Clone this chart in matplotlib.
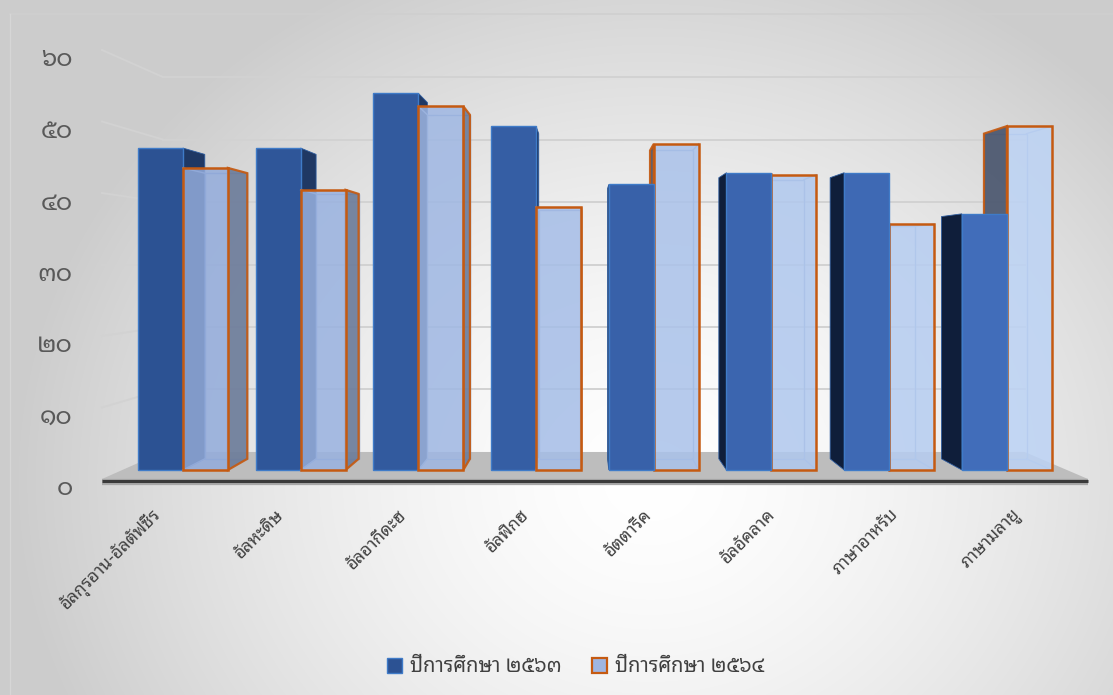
import matplotlib
matplotlib.use("Agg")
import matplotlib.pyplot as plt
import matplotlib.transforms as mtransforms
import numpy as np
from matplotlib.patches import Polygon, Patch
from matplotlib.colors import to_rgb

# data
subjects = ["อัลกุรอาน-อัลตัฟซีร", "อัลหะดิษ", "อัลอากีดะฮ", "อัลฟิกฮ",
            "อัตตารีค", "อัลอัคลาค", "ภาษาอาหรับ", "ภาษามลายู"]
year_2563 = [47.0, 47.0, 55.0, 50.2, 41.7, 43.4, 43.4, 37.4]
year_2564 = [44.1, 40.9, 53.1, 38.4, 47.6, 43.1, 35.9, 50.2]
series_names = ["ปีการศึกษา ๒๕๖๓", "ปีการศึกษา ๒๕๖๔"]
ytick_vals = [0, 10, 20, 30, 40, 50, 60]
ytick_text = ["๐", "๑๐", "๒๐", "๓๐", "๔๐", "๕๐", "๖๐"]

THAI = ["Noto Sans Thai Looped", "DejaVu Sans"]
plt.rcParams["font.family"] = THAI

# fake perspective: vanishing point (in data units) and depth scales
X0, V0 = 3.42, 30.0
S_FRONT, S_BACK = 0.958, 0.906      # bar front / back faces
S_WALL = 0.874                       # back wall
BAR_W = 0.382
XMIN, XMAX, YMAX = -0.515, 7.51, 65


def proj(x, v, s):
    return (X0 + (x - X0) * s, V0 + (v - V0) * s)


def mix(c1, c2, t):
    a, b = np.array(to_rgb(c1)), np.array(to_rgb(c2))
    return tuple(a + (b - a) * t)


W, H = 1113, 695
fig = plt.figure(figsize=(W / 100, H / 100), dpi=100)

# background gradient
bg = fig.add_axes([0, 0, 1, 1], zorder=-5)
yy, xx = np.mgrid[0:H, 0:W]
r = np.sqrt(((xx - 650) / 640.0) ** 2 + ((yy - 480) / 560.0) ** 2)
shade = np.clip(1.0 - 0.2 * r ** 1.5, 0.8, 1.0)
bg.imshow(np.dstack([shade] * 3), extent=[0, W, H, 0], aspect="auto")
bg.plot([10, W], [14, 14], color="#cfcfcf", lw=1.2)
bg.plot([10, 10], [14, H], color="#d6d6d6", lw=1.0)
bg.set_xlim(0, W)
bg.set_ylim(H, 0)
bg.axis("off")

ax = fig.add_axes([102 / W, (H - 479) / H, (1088 - 102) / W, (479 - 14.25) / H])
ax.set_xlim(XMIN, XMAX)
ax.set_ylim(0, YMAX)
ax.patch.set_alpha(0)
for sp in ax.spines.values():
    sp.set_visible(False)

# walls: gridlines on back wall and on left side wall
grid_c = "#d2d2d2"
for v in ytick_vals[1:]:
    bx0, by = proj(XMIN, v, S_WALL)
    bx1, _ = proj(XMAX, v, S_WALL)
    ax.plot([bx0, bx1], [by, by], color=grid_c, lw=1.4, zorder=1, clip_on=False)
    fx, fy = proj(XMIN, v, 1.0)
    ax.plot([fx, bx0], [fy, by], color=grid_c, lw=1.4, zorder=1, clip_on=False)

# floor
floor = [proj(XMIN, 0, 1.0), proj(XMAX, 0, 1.0), proj(XMAX, 0, S_WALL), proj(XMIN, 0, S_WALL)]
ax.add_patch(Polygon(floor, closed=True, facecolor="#bdbdbd", edgecolor="none", zorder=2, clip_on=False))
ax.plot([XMIN, XMAX], [-0.35, -0.35], color="#a8a8a8", lw=4.5, zorder=3, clip_on=False, solid_capstyle="butt")
ax.plot([XMIN, XMAX], [-0.3, -0.3], color="#3a3a3a", lw=2.2, zorder=3, clip_on=False, solid_capstyle="butt")

# bars
n = len(subjects)
bars = []
for i in range(n):
    t = i / (n - 1)
    bars.append(dict(x0=i - BAR_W, x1=i, v=year_2563[i], kind="blue", t=t))
    bars.append(dict(x0=i, x1=i + BAR_W, v=year_2564[i], kind="light", t=t))
bars.sort(key=lambda b: -abs((b["x0"] + b["x1"]) / 2 - X0))

z = 10
for b in bars:
    x0, x1, v, t = b["x0"], b["x1"], b["v"], b["t"]
    front = [proj(x0, 0, S_FRONT), proj(x1, 0, S_FRONT), proj(x1, v, S_FRONT), proj(x0, v, S_FRONT)]
    back = [proj(x0, 0, S_BACK), proj(x1, 0, S_BACK), proj(x1, v, S_BACK), proj(x0, v, S_BACK)]
    right_vis = x1 < X0
    xs = x1 if right_vis else x0
    side = [proj(xs, 0, S_FRONT), proj(xs, 0, S_BACK), proj(xs, v, S_BACK), proj(xs, v, S_FRONT)]
    if b["kind"] == "blue":
        fc = mix("#2c5293", "#416dba", t)
        sc = "#1f3864" if right_vis else "#0f1e3a"
        ax.add_patch(Polygon(side, closed=True, facecolor=sc, edgecolor="#2e5c9e", lw=0.6, zorder=z, clip_on=False))
        ax.add_patch(Polygon(front, closed=True, facecolor=fc, edgecolor="#3f7bc8", lw=1.0, zorder=z + 1, clip_on=False))
    else:
        fc = mix("#93acdc", "#bcd3f5", t)
        sc = "#6d7d9b" if right_vis else "#4a566e"
        # hidden edges seen through the translucent face
        ec = mix(fc, "#7d8fb5", 0.6)
        ax.add_patch(Polygon(back, closed=True, facecolor="none", edgecolor=ec, lw=1.0, zorder=z, clip_on=False))
        hx = x0 if right_vis else x1
        for vv in (0, v):
            p, q = proj(hx, vv, S_FRONT), proj(hx, vv, S_BACK)
            ax.plot([p[0], q[0]], [p[1], q[1]], color=ec, lw=1.0, zorder=z, clip_on=False)
        ax.add_patch(Polygon(side, closed=True, facecolor=sc, edgecolor="#c55a11", lw=1.6, alpha=0.92, zorder=z + 1, clip_on=False))
        ax.add_patch(Polygon(front, closed=True, facecolor=fc, edgecolor="none", alpha=0.85, zorder=z + 2, clip_on=False))
        ax.add_patch(Polygon(front, closed=True, facecolor="none", edgecolor="#c55a11", lw=1.8, zorder=z + 3, clip_on=False))
    z += 5

# axes text
ax.set_yticks(ytick_vals)
ax.set_yticklabels(ytick_text)
ax.tick_params(axis="y", length=0, pad=21, labelsize=18, labelcolor="#595959")
ydown = mtransforms.ScaledTranslation(0, -5 / 72, fig.dpi_scale_trans)
for lab in ax.get_yticklabels():
    lab.set_transform(lab.get_transform() + ydown)

ax.set_xticks(range(n))
ax.set_xticklabels(subjects, rotation=45, ha="right", va="top", rotation_mode="anchor")
ax.tick_params(axis="x", length=0, pad=19, labelsize=12.5, labelcolor="#404040")
xleft = mtransforms.ScaledTranslation(-10 / 72, 0, fig.dpi_scale_trans)
for lab in ax.get_xticklabels():
    lab.set_transform(lab.get_transform() + xleft)

handles = [Patch(facecolor="#2c5293", edgecolor="#3f7bc8", lw=1.0),
           Patch(facecolor="#9fb6e2", edgecolor="#c55a11", lw=1.6)]
fig.legend(handles, series_names, loc="center", bbox_to_anchor=(0.517, 0.04), ncol=2, frameon=False,
           fontsize=14.5, handlelength=0.75, handleheight=0.75, handletextpad=0.4, columnspacing=1.5,
           labelcolor="#404040")

fig.savefig("out.png", dpi=100)
